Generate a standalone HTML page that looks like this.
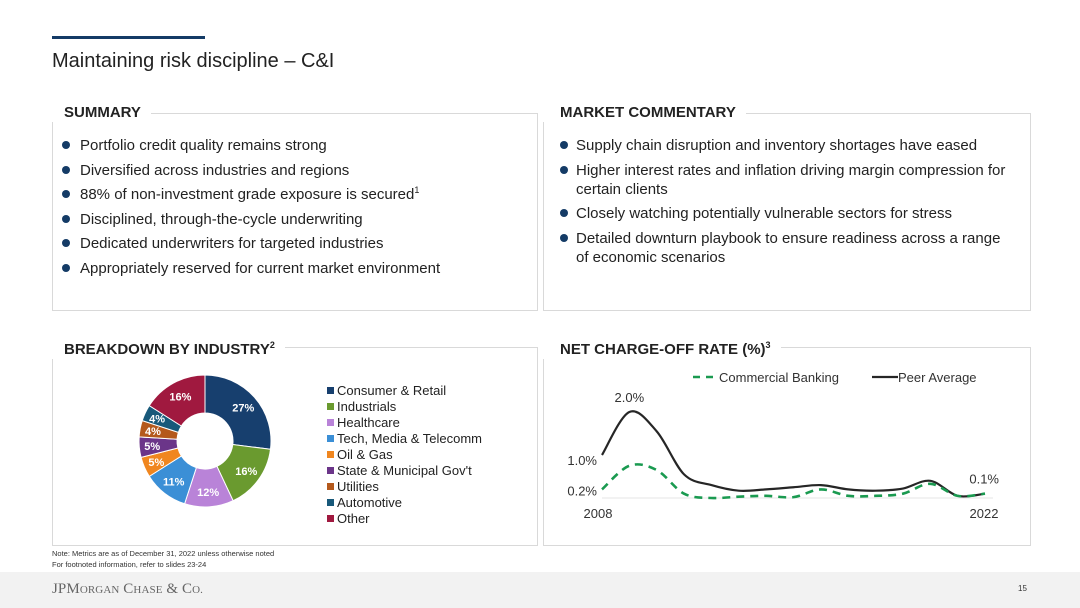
<!DOCTYPE html>
<html><head><meta charset="utf-8"><style>
body{margin:0;width:1080px;height:608px;background:#fff;font-family:"Liberation Sans",sans-serif;position:relative;overflow:hidden;color:#222}
.abs{position:absolute}
.box{position:absolute;border:1px solid #d9d9d9}
.hdr{position:absolute;background:#fff;font-weight:bold;font-size:15px;color:#222;padding:0 10px 0 12px;top:-10px;left:-1px;line-height:18px}
.hdr.b{top:-7px}
ul{margin:0;padding:0;list-style:none}
li{position:relative;padding-left:27px;font-size:15px;line-height:19px;margin-bottom:5.5px;color:#222}
li:before{content:"";position:absolute;left:9px;top:5px;width:8px;height:8px;border-radius:50%;background:#143b66}
.cm li{padding-left:32px}
.cm li:before{left:16px}
sup{font-size:9px;line-height:0}
</style></head><body>
<div class="abs" style="left:52px;top:36px;width:153px;height:3px;background:#143b66"></div>
<div class="abs" style="left:52px;top:50px;font-size:20px;color:#222">Maintaining risk discipline – C&amp;I</div>

<div class="box" style="left:52px;top:113px;width:484px;height:196px">
<div class="hdr">SUMMARY</div>
<ul style="position:absolute;left:0;top:22px">
<li>Portfolio credit quality remains strong</li>
<li>Diversified across industries and regions</li>
<li>88% of non-investment grade exposure is secured<sup>1</sup></li>
<li>Disciplined, through-the-cycle underwriting</li>
<li>Dedicated underwriters for targeted industries</li>
<li>Appropriately reserved for current market environment</li>
</ul></div>

<div class="box" style="left:543px;top:113px;width:486px;height:196px">
<div class="hdr" style="padding-left:17px">MARKET COMMENTARY</div>
<ul class="cm" style="position:absolute;left:0;top:22px;width:464px">
<li>Supply chain disruption and inventory shortages have eased</li>
<li>Higher interest rates and inflation driving margin compression for certain clients</li>
<li>Closely watching potentially vulnerable sectors for stress</li>
<li>Detailed downturn playbook to ensure readiness across a range of economic scenarios</li>
</ul></div>

<div class="box" style="left:52px;top:347px;width:484px;height:197px">
<div class="hdr b">BREAKDOWN BY INDUSTRY<sup>2</sup></div>
</div>
<svg class="abs" id="pie" style="left:0;top:0" width="540" height="560"></svg>

<div class="box" style="left:543px;top:347px;width:486px;height:197px">
<div class="hdr b" style="padding-left:17px">NET CHARGE-OFF RATE (%)<sup>3</sup></div>
</div>
<svg class="abs" id="line" style="left:0;top:0" width="1080" height="560"></svg>

<div class="abs" style="left:52px;top:548px;font-size:7.5px;line-height:11px;color:#333">Note: Metrics are as of December 31, 2022 unless otherwise noted<br>For footnoted information, refer to slides 23-24</div>
<div class="abs" style="left:0;top:572px;width:1080px;height:36px;background:#f2f2f2"></div>
<div class="abs" style="left:52px;top:581px;font-family:'Liberation Serif',serif;font-size:15px;color:#666;letter-spacing:0.1px">JP<span style="font-size:15px">M</span><span style="font-size:11px">ORGAN</span> C<span style="font-size:11px">HASE</span> &amp; C<span style="font-size:11px">O.</span></div>
<div class="abs" style="left:1018px;top:584px;font-size:8px;color:#333">15</div>

<script>
const NS="http://www.w3.org/2000/svg";
function mk(p,t,a){const e=document.createElementNS(NS,t);for(const k in a)e.setAttribute(k,a[k]);p.appendChild(e);return e;}
// Donut data
const pieCats=["Consumer & Retail","Industrials","Healthcare","Tech, Media & Telecomm","Oil & Gas","State & Municipal Gov't","Utilities","Automotive","Other"];
const pieVals=[27,16,12,11,5,5,4,4,16];
const pieColors=["#173f6e","#6a9a2f","#b983d8","#3b8fd6","#f0861f","#6b3589","#b4591c","#18597a","#a0193f"];
const pie=document.getElementById('pie');
const cx=205,cy=441,R=66,r=28;
const tot=pieVals.reduce((a,b)=>a+b,0);
let ang=-Math.PI/2;
pieVals.forEach((v,i)=>{
 const a0=ang,a1=ang+v/tot*2*Math.PI;ang=a1;
 const lg=(a1-a0)>Math.PI?1:0;
 const P=(rad,a)=>[cx+rad*Math.cos(a),cy+rad*Math.sin(a)];
 const [x0,y0]=P(R,a0),[x1,y1]=P(R,a1),[x2,y2]=P(r,a1),[x3,y3]=P(r,a0);
 const s=mk(pie,'path',{d:`M${x0},${y0}A${R},${R} 0 ${lg} 1 ${x1},${y1}L${x2},${y2}A${r},${r} 0 ${lg} 0 ${x3},${y3}Z`,fill:pieColors[i],stroke:'#fff','stroke-width':1});
 
 
 const am=(a0+a1)/2,lr=v<6?(R+r)/2+6:(R+r)/2+4;
 const t=mk(pie,'text',{x:cx+lr*Math.cos(am),y:cy+lr*Math.sin(am)+4,'text-anchor':'middle','font-size':11,'font-weight':'bold',fill:'#fff','font-family':'Liberation Sans'});
 t.textContent=v+'%';
 
 
 const ly=391+i*16;
 mk(pie,'rect',{x:327,y:ly-4,width:7,height:7,fill:pieColors[i]});
 const lt=mk(pie,'text',{x:337,y:ly+4,'font-size':13,fill:'#222','font-family':'Liberation Sans'});
 lt.textContent=pieCats[i];
 
 
});
// Line chart data
const years=[2008,2009,2010,2011,2012,2013,2014,2015,2016,2017,2018,2019,2020,2021,2022];
const peerVals=[1.0,2.0,1.55,0.55,0.3,0.17,0.2,0.25,0.3,0.2,0.17,0.22,0.4,0.05,0.1];
const cbVals=[0.2,0.75,0.65,0.1,0.0,0.03,0.05,0.02,0.2,0.05,0.05,0.1,0.33,0.05,0.1];
const ln=document.getElementById('line');
const X=y=>602+(y-2008)*(985-602)/14;
const Y=v=>498-v*43;
function smooth(vals){
 const p=vals.map((v,i)=>[X(years[i]),Y(v)]);
 let d=`M${p[0][0]},${p[0][1]}`;
 for(let i=0;i<p.length-1;i++){
  const p0=p[i-1]||p[i],p1=p[i],p2=p[i+1],p3=p[i+2]||p2;
  d+=`C${p1[0]+(p2[0]-p0[0])/6},${p1[1]+(p2[1]-p0[1])/6} ${p2[0]-(p3[0]-p1[0])/6},${p2[1]-(p3[1]-p1[1])/6} ${p2[0]},${p2[1]}`;
 }
 return d;
}
const base=mk(ln,'line',{x1:X(2008),x2:X(2022)+8,y1:Y(0),y2:Y(0),stroke:'#e6e6e6','stroke-width':1});


const pl=mk(ln,'path',{d:smooth(peerVals),fill:'none',stroke:'#262626','stroke-width':2.2});


const cl=mk(ln,'path',{d:smooth(cbVals),fill:'none',stroke:'#1a9a50','stroke-width':2.6,'stroke-dasharray':'8 6'});


function txt(x,y,s,anchor,name){const t=mk(ln,'text',{x:x,y:y,'font-size':13,fill:'#333','text-anchor':anchor,'font-family':'Liberation Sans'});t.textContent=s;
 
 }
txt(X(2009),Y(peerVals[1])-10,peerVals[1].toFixed(1)+'%','middle','peak-label');
txt(597,Y(peerVals[0])+10,peerVals[0].toFixed(1)+'%','end','start-peer-label');
txt(597,Y(cbVals[0])+6,cbVals[0].toFixed(1)+'%','end','start-cb-label');
txt(999,Y(peerVals[14])-10,peerVals[14].toFixed(1)+'%','end','end-label');
txt(598,518,String(years[0]),'middle','x-tick-label');
txt(984,518,String(years[14]),'middle','x-tick-label');
// legend
const l1=mk(ln,'line',{x1:693,x2:718,y1:377,y2:377,stroke:'#1a9a50','stroke-width':2.6,'stroke-dasharray':'7 6'});


txt(719,382,'Commercial Banking','start','legend-commercial-banking');
const l2=mk(ln,'line',{x1:872,x2:898,y1:377,y2:377,stroke:'#262626','stroke-width':2.2});


txt(898,382,'Peer Average','start','legend-peer-average');
</script>
</body></html>
